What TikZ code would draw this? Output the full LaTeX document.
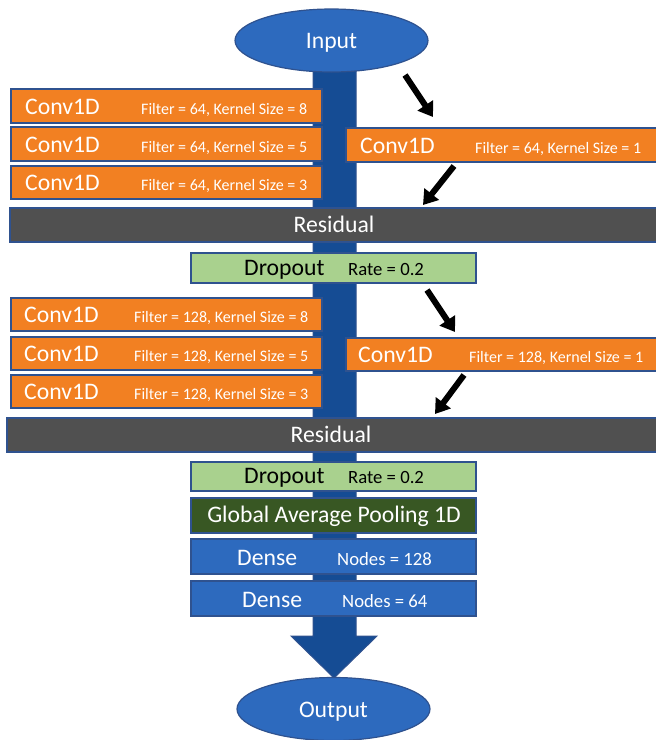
\documentclass[tikz,border=0pt]{standalone}
\usepackage{fontspec}
\setmainfont{Carlito}
\usetikzlibrary{shapes.geometric,arrows.meta}

\definecolor{convorange}{RGB}{242,128,34}
\definecolor{flowblue}{RGB}{21,76,148}
\definecolor{layerblue}{RGB}{45,106,190}
\definecolor{edgeblue}{RGB}{47,82,143}
\definecolor{resgray}{RGB}{80,80,80}
\definecolor{dropgreen}{RGB}{169,209,142}
\definecolor{poolgreen}{RGB}{56,87,35}

\tikzset{
  layer/.style={draw=edgeblue, line width=1.2pt, inner sep=0pt, outer sep=0pt},
  conv/.style={layer, fill=convorange},
  resid/.style={layer, fill=resgray},
  drop/.style={layer, fill=dropgreen},
  pool/.style={layer, fill=poolgreen},
  dense/.style={layer, fill=layerblue},
  term/.style={ellipse, draw=edgeblue, line width=1.2pt, fill=layerblue,
    minimum width=193pt, minimum height=63pt, inner sep=0pt},
  bigtext/.style={font=\fontsize{23.7}{28}\selectfont, inner sep=0pt, text=white},
  smalltext/.style={font=\fontsize{16}{19}\selectfont, inner sep=0pt, text=white, anchor=base west},
  midtext/.style={font=\fontsize{18.7}{22}\selectfont, inner sep=0pt, text=white, anchor=base west},
  skiparrow/.style={line width=6pt, -{Triangle[length=14pt,width=18pt]}},
}

\begin{document}
\begin{tikzpicture}[x=1pt,y=-1pt]
\useasboundingbox (0,0) rectangle (656,740);

% main data path: a wide shaft ending in an arrow head
\fill[flowblue, draw=edgeblue, line width=1pt]
  (313,60) -- (356,60) -- (356,636) -- (377,636) -- (334,678)
  -- (291,636) -- (313,636) -- cycle;

% input and output
\node[term] (input) at (331.5,40.5) {};
\node[bigtext, anchor=base] (inputtxt) at (331.5,48.5) {Input};
\node[term] (output) at (333.5,709) {};
\node[bigtext, anchor=base] (outputtxt) at (333.5,717) {Output};

% first convolution block
\node[conv, minimum width=311pt, minimum height=34pt] (c1a) at (166.5,106) {};
\node[conv, minimum width=311pt, minimum height=34pt] (c1b) at (166.5,144) {};
\node[conv, minimum width=311pt, minimum height=33pt] (c1c) at (166.5,182.5) {};
\node[conv, minimum width=314pt, minimum height=34pt] (c1r) at (503,145) {};
\node[bigtext, anchor=base west] (c1at) at (25,114) {Conv1D};
\node[smalltext] (c1af) at (141,114) {Filter = 64, Kernel Size = 8};
\node[bigtext, anchor=base west] (c1bt) at (25,152) {Conv1D};
\node[smalltext] (c1bf) at (141,152) {Filter = 64, Kernel Size = 5};
\node[bigtext, anchor=base west] (c1ct) at (25,190.5) {Conv1D};
\node[smalltext] (c1cf) at (141,190.5) {Filter = 64, Kernel Size = 3};
\node[bigtext, anchor=base west] (c1rt) at (360,153) {Conv1D};
\node[smalltext] (c1rf) at (475,153) {Filter = 64, Kernel Size = 1};

% first residual and dropout
\node[resid, minimum width=650pt, minimum height=34pt] (res1) at (335,225) {};
\node[bigtext, anchor=base] (res1t) at (334,232) {Residual};
\node[drop, minimum width=285pt, minimum height=30pt] (drop1) at (333.5,268) {};
\node[bigtext, anchor=base west, text=black] (drop1t) at (244,275) {Dropout};
\node[midtext, text=black] (drop1r) at (348,275) {Rate = 0.2};

% second convolution block
\node[conv, minimum width=311pt, minimum height=33pt] (c2a) at (166.5,314.5) {};
\node[conv, minimum width=311pt, minimum height=33pt] (c2b) at (166.5,353.5) {};
\node[conv, minimum width=311pt, minimum height=33pt] (c2c) at (166.5,391.5) {};
\node[conv, minimum width=314pt, minimum height=33pt] (c2r) at (503,354.5) {};
\node[bigtext, anchor=base west] (c2at) at (24,322.5) {Conv1D};
\node[smalltext] (c2af) at (134,322.5) {Filter = 128, Kernel Size = 8};
\node[bigtext, anchor=base west] (c2bt) at (24,361.5) {Conv1D};
\node[smalltext] (c2bf) at (134,361.5) {Filter = 128, Kernel Size = 5};
\node[bigtext, anchor=base west] (c2ct) at (24,399.5) {Conv1D};
\node[smalltext] (c2cf) at (134,399.5) {Filter = 128, Kernel Size = 3};
\node[bigtext, anchor=base west] (c2rt) at (358,362.5) {Conv1D};
\node[smalltext] (c2rf) at (469,362.5) {Filter = 128, Kernel Size = 1};

% second residual, dropout and the head of the network
\node[resid, minimum width=653pt, minimum height=34pt] (res2) at (333.5,435) {};
\node[bigtext, anchor=base] (res2t) at (331,442) {Residual};
\node[drop, minimum width=285pt, minimum height=29pt] (drop2) at (333.5,476.5) {};
\node[bigtext, anchor=base west, text=black] (drop2t) at (244,483.5) {Dropout};
\node[midtext, text=black] (drop2r) at (348,483.5) {Rate = 0.2};
\node[pool, minimum width=285pt, minimum height=35pt] (gap) at (333.5,515.5) {};
\node[bigtext, anchor=base] (gapt) at (334,522.5) {Global Average Pooling 1D};
\node[dense, minimum width=285pt, minimum height=35pt] (d1) at (333.5,556.5) {};
\node[bigtext, anchor=base west] (d1t) at (237,565) {Dense};
\node[midtext] (d1n) at (337,565) {Nodes = 128};
\node[dense, minimum width=285pt, minimum height=35pt] (d2) at (333.5,598.5) {};
\node[bigtext, anchor=base west] (d2t) at (242,607) {Dense};
\node[midtext] (d2n) at (342,607) {Nodes = 64};

% shortcut arrows into and out of the 1x1 convolutions
\coordinate (s1a) at (405,75);
\coordinate (s1b) at (433,117);
\coordinate (s2a) at (454,166);
\coordinate (s2b) at (423,205);
\coordinate (s3a) at (427,290);
\coordinate (s3b) at (455,332);
\coordinate (s4a) at (464,375);
\coordinate (s4b) at (435,414);
\draw[skiparrow] (s1a) -- (s1b);
\draw[skiparrow] (s2a) -- (s2b);
\draw[skiparrow] (s3a) -- (s3b);
\draw[skiparrow] (s4a) -- (s4b);
\end{tikzpicture}
\end{document}
